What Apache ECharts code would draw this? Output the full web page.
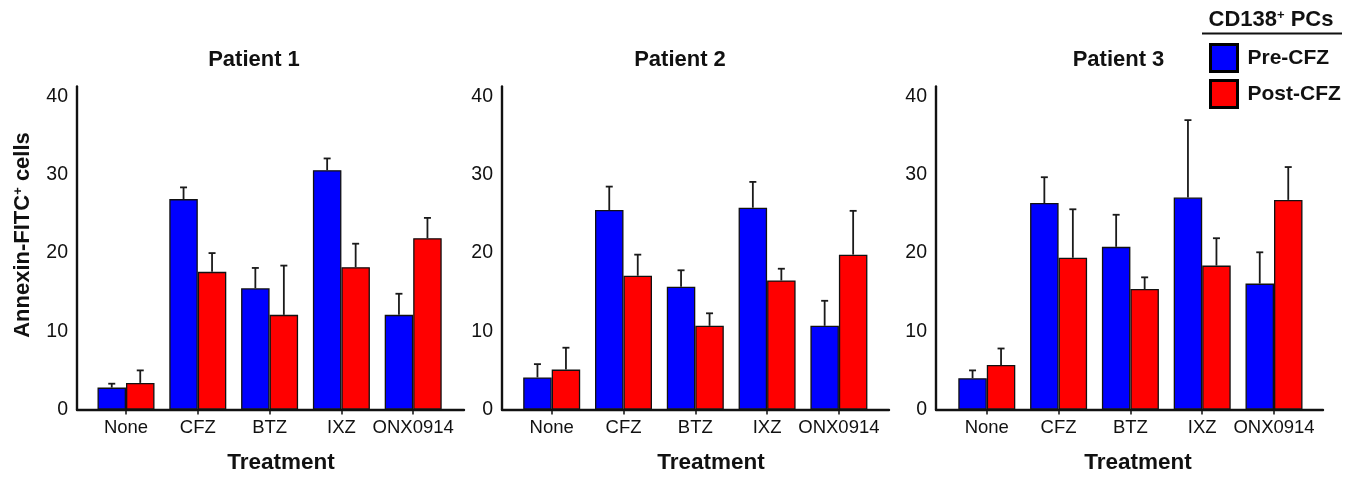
<!DOCTYPE html>
<html>
<head>
<meta charset="utf-8">
<title>Annexin-FITC+ cells by treatment</title>
<script src="https://cdn.jsdelivr.net/npm/echarts/dist/echarts.min.js"></script>
<style>
  html, body { margin: 0; padding: 0; background: #ffffff; }
  #chart { width: 1360px; height: 477px; }
</style>
</head>
<body>
<div id="chart"></div>
<script>
// ---- data ----
const treatments = ['None', 'CFZ', 'BTZ', 'IXZ', 'ONX0914'];
const patientNames = ['Patient 1', 'Patient 2', 'Patient 3'];
const seriesNames = ['Pre-CFZ', 'Post-CFZ'];
const yTickValues = [0, 10, 20, 30, 40];

// Patient 1
const p1Pre = [2.8, 26.9, 15.5, 30.6, 12.1];
const p1PreErr = [0.5, 1.5, 2.6, 1.5, 2.7];
const p1Post = [3.4, 17.6, 12.1, 18.2, 21.9];
const p1PostErr = [1.6, 2.4, 6.3, 3.0, 2.6];

// Patient 2
const p2Pre = [4.1, 25.5, 15.7, 25.8, 10.7];
const p2PreErr = [1.7, 3.0, 2.1, 3.3, 3.2];
const p2Post = [5.1, 17.1, 10.7, 16.5, 19.8];
const p2PostErr = [2.8, 2.7, 1.6, 1.5, 5.6];

// Patient 3
const p3Pre = [4.0, 26.4, 20.8, 27.1, 16.1];
const p3PreErr = [1.0, 3.3, 4.1, 9.9, 4.0];
const p3Post = [5.7, 19.4, 15.4, 18.4, 26.8];
const p3PostErr = [2.1, 6.2, 1.5, 3.5, 4.2];

const preValues = [p1Pre, p2Pre, p3Pre];
const preErrors = [p1PreErr, p2PreErr, p3PreErr];
const postValues = [p1Post, p2Post, p3Post];
const postErrors = [p1PostErr, p2PostErr, p3PostErr];

// ---- layout / style ----
const FONT = '"Liberation Sans", Arial, Helvetica, sans-serif';
const BLUE = '#0000ff';
const RED = '#ff0000';
const INK = '#111111';
const Y_MAX = 41.3;
const BAR_W = 28.5;
const CAP = 3.5;

const plotTop = 86.5;
const plotHeight = 323;
// outer frame (axis lines) and inner band area (bars) per panel
const frameLeft = [77, 502, 936];
const frameWidth = 387;
const bandLeft = [90.1, 515.8, 950.9];
const bandWidth = 359;
const titleX = [254, 680, 1118.5];
const xNameX = [281, 711, 1138];

const chart = echarts.init(document.getElementById('chart'), null, { renderer: 'canvas' });

const grids = [], xAxes = [], yAxes = [], series = [], graphics = [];

function errorSeries(name, gi, values, errs, offset) {
  return {
    name: name,
    type: 'custom',
    xAxisIndex: gi,
    yAxisIndex: gi,
    z: 5,
    silent: true,
    data: values.map((v, i) => [i, v, errs[i]]),
    encode: { x: 0, y: 1 },
    renderItem: function (params, api) {
      const i = api.value(0), v = api.value(1), e = api.value(2);
      const base = api.coord([i, v]);
      const top = api.coord([i, v + e]);
      const x = base[0] + offset;
      const st = { stroke: '#1a1a1a', lineWidth: 1.8 };
      return {
        type: 'group',
        children: [
          { type: 'line', shape: { x1: x, y1: base[1], x2: x, y2: top[1] }, style: st },
          { type: 'line', shape: { x1: x - CAP, y1: top[1], x2: x + CAP, y2: top[1] }, style: st }
        ]
      };
    }
  };
}

for (let p = 0; p < 3; p++) {
  const frameIdx = p * 2;      // grid holding the visible axis lines and y labels
  const bandIdx = p * 2 + 1;   // grid holding the bars and category labels

  grids.push({ left: frameLeft[p], top: plotTop, width: frameWidth, height: plotHeight, outerBoundsMode: 'none', containLabel: false });
  grids.push({ left: bandLeft[p], top: plotTop, width: bandWidth, height: plotHeight, outerBoundsMode: 'none', containLabel: false });

  xAxes.push({
    gridIndex: frameIdx, type: 'value', min: 0, max: 1,
    axisLine: { show: true, onZero: false, lineStyle: { color: INK, width: 2.4 } },
    axisTick: { show: false }, axisLabel: { show: false }, splitLine: { show: false }
  });
  xAxes.push({
    gridIndex: bandIdx, type: 'category', data: treatments,
    axisLine: { show: false },
    axisTick: { show: true, alignWithLabel: true, length: 5, lineStyle: { color: INK, width: 1.5 } },
    axisLabel: { show: true, interval: 0, margin: 9, color: INK, fontFamily: FONT, fontSize: 18.5 },
    splitLine: { show: false }
  });

  yAxes.push({
    gridIndex: frameIdx, type: 'value', min: 0, max: Y_MAX, interval: 10,
    axisLine: { show: true, onZero: false, lineStyle: { color: INK, width: 2.4 } },
    axisTick: { show: false },
    axisLabel: {
      show: true, margin: 9, color: INK, fontFamily: FONT, fontSize: 19.5,
      formatter: v => (yTickValues.indexOf(v) >= 0 ? String(v) : '')
    },
    splitLine: { show: false }
  });
  yAxes.push({
    gridIndex: bandIdx, type: 'value', min: 0, max: Y_MAX, interval: 10, show: false,
    splitLine: { show: false }
  });

  const barStyle = (c) => ({ color: c, borderColor: INK, borderWidth: 1.3 });
  series.push({
    name: seriesNames[0], type: 'bar', xAxisIndex: bandIdx, yAxisIndex: bandIdx,
    barWidth: BAR_W, barGap: '0%', data: preValues[p], itemStyle: barStyle(BLUE),
    emphasis: { disabled: true }, z: 2
  });
  series.push({
    name: seriesNames[1], type: 'bar', xAxisIndex: bandIdx, yAxisIndex: bandIdx,
    barWidth: BAR_W, barGap: '0%', data: postValues[p], itemStyle: barStyle(RED),
    emphasis: { disabled: true }, z: 2
  });
  series.push(errorSeries('pre-err-' + p, bandIdx, preValues[p], preErrors[p], -BAR_W / 2));
  series.push(errorSeries('post-err-' + p, bandIdx, postValues[p], postErrors[p], BAR_W / 2));

  graphics.push({
    type: 'text', x: titleX[p], y: 60,
    style: { text: patientNames[p], fill: INK, font: 'bold 22px ' + FONT, align: 'center', verticalAlign: 'middle' }
  });
  graphics.push({
    type: 'text', x: xNameX[p], y: 463,
    style: { text: 'Treatment', fill: INK, font: 'bold 22.5px ' + FONT, align: 'center', verticalAlign: 'middle' }
  });
}

// rotated y-axis title with superscript
graphics.push({
  type: 'text', x: 23, y: 235, rotation: Math.PI / 2,
  style: {
    text: 'Annexin-FITC{s|+} cells',
    fill: INK, font: 'bold 22px ' + FONT, align: 'center', verticalAlign: 'middle',
    rich: { s: { fontSize: 13, fontWeight: 'bold', fontFamily: FONT, fill: INK, verticalAlign: 'top', padding: [0, 0, 9, 0] } }
  }
});

// legend header with underline
graphics.push({
  type: 'text', x: 1271, y: 20,
  style: {
    text: 'CD138{s|+} PCs',
    fill: INK, font: 'bold 22px ' + FONT, align: 'center', verticalAlign: 'middle',
    rich: { s: { fontSize: 13, fontWeight: 'bold', fontFamily: FONT, fill: INK, verticalAlign: 'top', padding: [0, 0, 9, 0] } }
  }
});
graphics.push({
  type: 'line', shape: { x1: 1202, y1: 33.5, x2: 1342, y2: 33.5 },
  style: { stroke: INK, lineWidth: 2 }
});

const option = {
  backgroundColor: '#ffffff',
  animation: false,
  textStyle: { fontFamily: FONT },
  grid: grids,
  xAxis: xAxes,
  yAxis: yAxes,
  series: series,
  legend: {
    data: seriesNames,
    orient: 'vertical',
    left: 1209,
    top: 43,
    padding: 0,
    itemWidth: 27,
    itemHeight: 27,
    itemGap: 6,
    icon: 'rect',
    selectedMode: false,
    itemStyle: { borderColor: '#000000', borderWidth: 3 },
    textStyle: { color: INK, fontFamily: FONT, fontSize: 21, fontWeight: 'bold', padding: [0, 0, 0, 5] }
  },
  graphic: graphics
};

chart.setOption(option);
</script>
</body>
</html>
